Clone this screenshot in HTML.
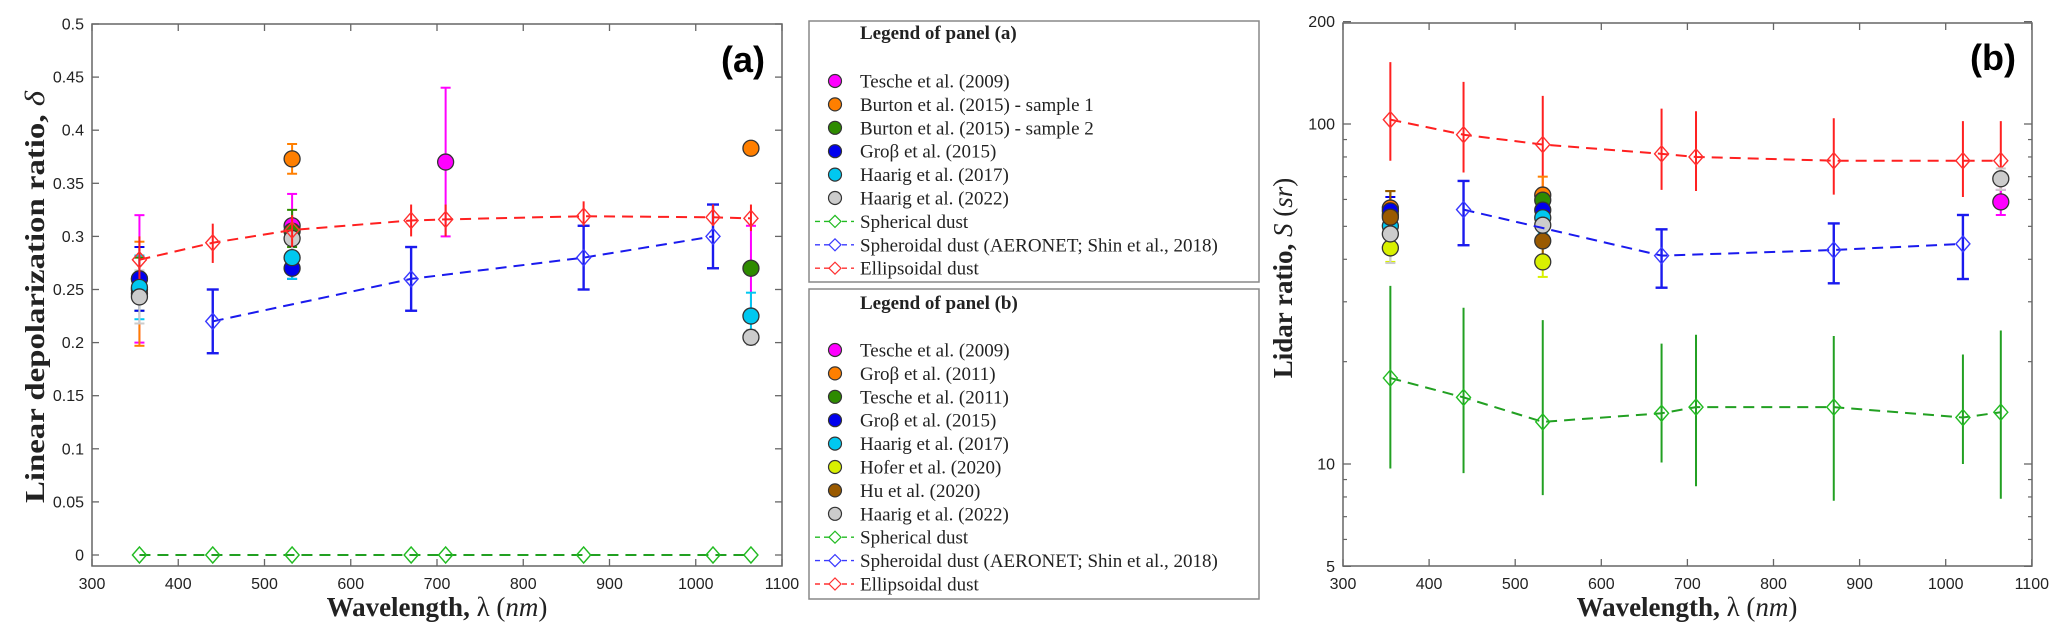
<!DOCTYPE html>
<html><head><meta charset="utf-8"><style>
html,body{margin:0;padding:0;background:#fff;}
svg{display:block;}
</style></head><body>
<svg id="fig" width="2067" height="642" viewBox="0 0 2067 642" xmlns="http://www.w3.org/2000/svg">
<g id="pa"></g>
<g id="pb"></g>
<g id="lg"></g>
</svg>
<script>
// ---------- Panel (a) data ----------
const aModelWl = [355,440,532,670,710,870,1020,1064];
const aEllip = [0.278,0.294,0.306,0.315,0.316,0.319,0.318,0.317];
const aEllipLo = [0.26,0.275,0.29,0.30,0.30,0.31,0.31,0.305];
const aEllipHi = [0.30,0.312,0.32,0.33,0.33,0.333,0.33,0.33];
const aSpheroidWl = [440,670,870,1020];
const aSpheroid = [0.22,0.26,0.28,0.30];
const aSpheroidLo = [0.19,0.23,0.25,0.27];
const aSpheroidHi = [0.25,0.29,0.31,0.33];
const aSpherical = [0,0,0,0,0,0,0,0];
const aObsNames = ["Tesche 2009","Burton 2015 s1","Burton 2015 s2","Gross 2015","Haarig 2017","Haarig 2022"];
const aObsColors = ["#ff00ff","#ff7f00","#2e8b00","#0000ee","#00c8f0","#cccccc"];
const aObsWl = [[355,532,710,1064],[355,532,1064],[355,532,1064],[355,532],[355,532,1064],[355,532,1064]];
const aObsVal = [[0.26,0.31,0.37,null],[0.246,0.373,0.383],[0.25,0.305,0.27],[0.26,0.27],[0.252,0.28,0.225],[0.243,0.298,0.205]];
const aObsLo = [[0.20,0.28,0.30,0.23],[0.197,0.359,null],[0.23,0.29,null],[0.23,0.26],[0.222,0.26,0.205],[0.218,0.28,0.198]];
const aObsHi = [[0.32,0.34,0.44,0.31],[0.295,0.387,null],[0.28,0.325,null],[0.29,0.28],[0.282,0.30,0.247],[0.268,0.315,0.212]];
const aYTicks = [0,0.05,0.1,0.15,0.2,0.25,0.3,0.35,0.4,0.45,0.5];
const aYTickLabels = ["0","0.05","0.1","0.15","0.2","0.25","0.3","0.35","0.4","0.45","0.5"];
const xTicks = [300,400,500,600,700,800,900,1000,1100];

// ---------- Panel (b) data ----------
const bModelWl = [355,440,532,670,710,870,1020,1064];
const bEllip = [103,93,87,81.7,80,78,78,78];
const bEllipLo = [78,72,64,64,63.5,62,61,61];
const bEllipHi = [152,133,121,111,109,104,102,102];
const bSpheroidWl = [440,670,870,1020];
const bSpheroid = [56,41,42.6,44.4];
const bSpheroidLo = [44,33,34,35];
const bSpheroidHi = [68,49,51,54];
const bSpherical = [17.9,15.7,13.3,14.1,14.7,14.7,13.7,14.2];
const bSphericalLo = [9.7,9.4,8.1,10.1,8.6,7.8,10,7.9];
const bSphericalHi = [33.4,28.8,26.5,22.6,24,23.8,21,24.7];
const bObsNames = ["Tesche 2009","Gross 2011","Tesche 2011","Gross 2015","Haarig 2017","Hofer 2020","Hu 2020","Haarig 2022"];
const bObsColors = ["#ff00ff","#ff7f00","#2e8b00","#0000ee","#00c8f0","#d8f000","#9a5a00","#cccccc"];
const bObsWl = [[1064],[355,532],[355,532],[355,532],[355,532],[355,532],[355,532],[355,532,1064]];
const bObsVal = [[59],[56.6,61.8],[54,59.7],[55.5,55.8],[50.1,53],[43.2,39.3],[53.2,45.3],[47.5,50.4,69]];
const bObsLo = [[54],[50,57],[48,55],[50,51],[45,48],[39.3,35.5],[48,41],[39,45,64]];
const bObsHi = [[64],[63.5,70],[63.5,64],[61,61],[57,59],[48,44],[63.5,50],[56,56,74]];
const bYMajor = [5,10,100,200];
const bYMajorLabels = ["5","10","100","200"];
const bYMinor = [6,7,8,9,20,30,40,50,60,70,80,90];

const NS="http://www.w3.org/2000/svg";
function mk(parent,tag,attrs,text){const e=document.createElementNS(NS,tag);for(const k in attrs)e.setAttribute(k,attrs[k]);if(text!==undefined)e.textContent=text;parent.appendChild(e);return e;}

// axis functions
const aX = w => 92 + (w-300)*0.8625;
const aY = v => 555 - v*1062;
const bX = w => 1343 + (w-300)*0.861;
const bY = v => 464 - (Math.log10(v)-1)*340;

const pa=document.getElementById('pa'), pb=document.getElementById('pb'), lg=document.getElementById('lg');

function diamond(g,x,y,c,name){
  const d=mk(g,'path',{d:`M${x-7},${y} L${x},${y-8} L${x+7},${y} L${x},${y+8} Z`,fill:'none',stroke:c,'stroke-width':1.4});
  
  
}
function circle(g,x,y,c,name){
  const d=mk(g,'circle',{cx:x,cy:y,r:8,fill:c,stroke:'#333','stroke-width':1.3});
  
  
}
function errbar(g,x,y1,y2,c,cap,w,name){
  const gg=mk(g,'g',{stroke:c,'stroke-width':w||2});
  
  
  mk(gg,'line',{x1:x,y1:y1,x2:x,y2:y2});
  if(cap){mk(gg,'line',{x1:x-cap,y1:y1,x2:x+cap,y2:y1});mk(gg,'line',{x1:x-cap,y1:y2,x2:x+cap,y2:y2});}
}
function dashed(g,xs,ys,c,name){
  const p=mk(g,'polyline',{points:xs.map((x,i)=>x+','+ys[i]).join(' '),fill:'none',stroke:c,'stroke-width':2,'stroke-dasharray':'11,7'});
  
  
}

function axesBox(g,x0,x1,y0,y1,Xf,name){
  const b=mk(g,'rect',{x:x0,y:y0,width:x1-x0,height:y1-y0,fill:'none',stroke:'#666','stroke-width':1.5});
  
  
  xTicks.forEach(t=>{
    const x=Xf(t);
    mk(g,'line',{x1:x,y1:y1,x2:x,y2:y1-7,stroke:'#666','stroke-width':1.3});
    mk(g,'line',{x1:x,y1:y0,x2:x,y2:y0+7,stroke:'#666','stroke-width':1.3});
    const l=mk(g,'text',{x:x,y:589,'text-anchor':'middle','font-family':'Liberation Sans, sans-serif','font-size':16,fill:'#222'},String(t));
    
    
  });
}

// ----- Panel a -----
axesBox(pa,92,782,24,566,aX,'panel-a-axes');
aYTicks.forEach((t,i)=>{
  const y=aY(t);
  mk(pa,'line',{x1:92,y1:y,x2:99,y2:y,stroke:'#666','stroke-width':1.3});
  mk(pa,'line',{x1:782,y1:y,x2:775,y2:y,stroke:'#666','stroke-width':1.3});
  const l=mk(pa,'text',{x:84,y:y+5.5,'text-anchor':'end','font-family':'Liberation Sans, sans-serif','font-size':16,fill:'#222'},aYTickLabels[i]);
  
  
});
let t=mk(pa,'text',{x:0,y:0,transform:'translate(44,297) rotate(-90)','text-anchor':'middle','font-family':'Liberation Serif, serif','font-size':27,'font-weight':'bold',fill:'#222',textLength:412,lengthAdjust:'spacingAndGlyphs'});


t.innerHTML='Linear depolarization ratio, <tspan font-style="italic" font-weight="normal">δ</tspan>';
t=mk(pa,'text',{x:437,y:616,'text-anchor':'middle','font-family':'Liberation Serif, serif','font-size':27,'font-weight':'bold',fill:'#222'});


t.innerHTML='Wavelength, <tspan font-weight="normal">λ (<tspan font-style="italic">nm</tspan>)</tspan>';
t=mk(pa,'text',{x:743,y:72,'text-anchor':'middle','font-family':'Liberation Sans, sans-serif','font-size':36,'font-weight':'bold',fill:'#000'},'(a)');



// models a
dashed(pa,aModelWl.map(aX),aSpherical.map(aY),'#22a022','spherical-line-a');
aModelWl.forEach((w,i)=>diamond(pa,aX(w),aY(aSpherical[i]),'#22bb22','spherical-marker-a'));
// observations a
aObsNames.forEach((n,s)=>{
  aObsWl[s].forEach((w,i)=>{
    if(aObsLo[s][i]!==null) errbar(pa,aX(w),aY(aObsLo[s][i]),aY(aObsHi[s][i]),aObsColors[s],5,2,'obs-errorbar-a');
  });
});
aObsNames.forEach((n,s)=>{
  aObsWl[s].forEach((w,i)=>{ if(aObsVal[s][i]!==null) circle(pa,aX(w),aY(aObsVal[s][i]),aObsColors[s],'obs-point-a'); });
});
dashed(pa,aSpheroidWl.map(aX),aSpheroid.map(aY),'#1a1aee','spheroidal-line-a');
aSpheroidWl.forEach((w,i)=>{errbar(pa,aX(w),aY(aSpheroidLo[i]),aY(aSpheroidHi[i]),'#1a1aee',6,2.4,'spheroidal-errorbar-a');diamond(pa,aX(w),aY(aSpheroid[i]),'#3a3aff','spheroidal-marker-a');});
dashed(pa,aModelWl.map(aX),aEllip.map(aY),'#ff2020','ellipsoidal-line-a');
aModelWl.forEach((w,i)=>{errbar(pa,aX(w),aY(aEllipLo[i]),aY(aEllipHi[i]),'#ff2020',0,2,'ellipsoidal-errorbar-a');diamond(pa,aX(w),aY(aEllip[i]),'#ff3030','ellipsoidal-marker-a');});

// ----- Panel b -----
axesBox(pb,1343,2032,23,566,bX,'panel-b-axes');
bYMajor.forEach((v,i)=>{
  const y=bY(v);
  mk(pb,'line',{x1:1343,y1:y,x2:1351,y2:y,stroke:'#666','stroke-width':1.3});
  mk(pb,'line',{x1:2032,y1:y,x2:2024,y2:y,stroke:'#666','stroke-width':1.3});
  const l=mk(pb,'text',{x:1335,y:y+5.5,'text-anchor':'end','font-family':'Liberation Sans, sans-serif','font-size':16,fill:'#222'},bYMajorLabels[i]);
  
  
});
bYMinor.forEach(v=>{
  const y=bY(v);
  mk(pb,'line',{x1:1343,y1:y,x2:1347,y2:y,stroke:'#666','stroke-width':1.2});
  mk(pb,'line',{x1:2032,y1:y,x2:2028,y2:y,stroke:'#666','stroke-width':1.2});
});
t=mk(pb,'text',{x:0,y:0,transform:'translate(1292,278) rotate(-90)','text-anchor':'middle','font-family':'Liberation Serif, serif','font-size':27,'font-weight':'bold',fill:'#222'});


t.innerHTML='Lidar ratio, <tspan font-weight="normal" font-style="italic">S</tspan><tspan font-weight="normal"> (<tspan font-style="italic">sr</tspan>)</tspan>';
t=mk(pb,'text',{x:1687,y:616,'text-anchor':'middle','font-family':'Liberation Serif, serif','font-size':27,'font-weight':'bold',fill:'#222'});


t.innerHTML='Wavelength, <tspan font-weight="normal">λ (<tspan font-style="italic">nm</tspan>)</tspan>';
t=mk(pb,'text',{x:1993,y:70,'text-anchor':'middle','font-family':'Liberation Sans, sans-serif','font-size':36,'font-weight':'bold',fill:'#000'},'(b)');



dashed(pb,bModelWl.map(bX),bSpherical.map(bY),'#22a022','spherical-line-b');
bModelWl.forEach((w,i)=>{errbar(pb,bX(w),bY(bSphericalLo[i]),bY(bSphericalHi[i]),'#22a022',0,2,'spherical-errorbar-b');diamond(pb,bX(w),bY(bSpherical[i]),'#22bb22','spherical-marker-b');});
dashed(pb,bModelWl.map(bX),bEllip.map(bY),'#ff2020','ellipsoidal-line-b');
bModelWl.forEach((w,i)=>{errbar(pb,bX(w),bY(bEllipLo[i]),bY(bEllipHi[i]),'#ff2020',0,2,'ellipsoidal-errorbar-b');diamond(pb,bX(w),bY(bEllip[i]),'#ff3030','ellipsoidal-marker-b');});
bObsNames.forEach((n,s)=>{
  bObsWl[s].forEach((w,i)=>errbar(pb,bX(w),bY(bObsLo[s][i]),bY(bObsHi[s][i]),bObsColors[s],5,2,'obs-errorbar-b'));
});
bObsNames.forEach((n,s)=>{
  bObsWl[s].forEach((w,i)=>circle(pb,bX(w),bY(bObsVal[s][i]),bObsColors[s],'obs-point-b'));
});
dashed(pb,bSpheroidWl.map(bX),bSpheroid.map(bY),'#1a1aee','spheroidal-line-b');
bSpheroidWl.forEach((w,i)=>{errbar(pb,bX(w),bY(bSpheroidLo[i]),bY(bSpheroidHi[i]),'#1a1aee',6,2.4,'spheroidal-errorbar-b');diamond(pb,bX(w),bY(bSpheroid[i]),'#3a3aff','spheroidal-marker-b');});

// ----- Legends -----
const legA = ["Tesche et al. (2009)","Burton et al. (2015) - sample 1","Burton et al. (2015) - sample 2","Groβ et al. (2015)","Haarig et al. (2017)","Haarig et al. (2022)"];
const legB = ["Tesche et al. (2009)","Groβ et al. (2011)","Tesche et al. (2011)","Groβ et al. (2015)","Haarig et al. (2017)","Hofer et al. (2020)","Hu et al. (2020)","Haarig et al. (2022)"];
const legModels = ["Spherical dust","Spheroidal dust (AERONET; Shin et al., 2018)","Ellipsoidal dust"];
const legModelColors = ["#22bb22","#3a3aff","#ff3030"];
function legend(y0,y1,title,titleY,firstRow,names,colors,name){
  const g=mk(lg,'g',{});
  
  
  mk(g,'rect',{x:809,y:y0,width:450,height:y1-y0,fill:'#fff',stroke:'#888','stroke-width':1.5});
  const tt=mk(g,'text',{x:860,y:titleY+6,'font-family':'Liberation Serif, serif','font-size':19,'font-weight':'bold',fill:'#222'},title);
  
  
  const all=names.concat(legModels);
  all.forEach((n,i)=>{
    const y=firstRow+i*23.4;
    const e=mk(g,'g',{});
    
    
    if(i<names.length){
      mk(e,'circle',{cx:835,cy:y,r:6.5,fill:colors[i],stroke:'#333','stroke-width':1.2});
    }else{
      const c=legModelColors[i-names.length];
      mk(e,'line',{x1:815,y1:y,x2:854,y2:y,stroke:c,'stroke-width':1.4,'stroke-dasharray':'5,4'});
      mk(e,'path',{d:`M${829},${y} L835,${y-6} L841,${y} L835,${y+6} Z`,fill:'#fff',stroke:c,'stroke-width':1.2});
    }
    mk(e,'text',{x:860,y:y+6.5,'font-family':'Liberation Serif, serif','font-size':19,fill:'#222'},n);
  });
}
legend(21,282,'Legend of panel (a)',33,81,legA,aObsColors,'legend-panel-a');
legend(289,599,'Legend of panel (b)',303,350,legB,bObsColors,'legend-panel-b');
</script>
</body></html>
